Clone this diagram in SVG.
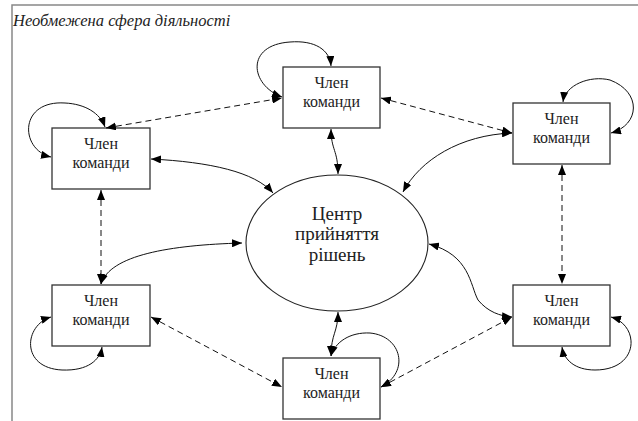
<svg xmlns="http://www.w3.org/2000/svg" width="638" height="421" viewBox="0 0 638 421">
<defs>
<marker id="ah" markerUnits="userSpaceOnUse" markerWidth="10" markerHeight="8" refX="10" refY="4" orient="auto-start-reverse" viewBox="0 0 10 8">
<path d="M0,0 L10,4 L0,8 z" fill="#000"/>
</marker>
<style>
.box{fill:#fff;stroke:#333;stroke-width:1.3}
.ell{fill:#fff;stroke:#222;stroke-width:1.1}
text{font-family:"Liberation Serif","Times New Roman",serif;fill:#222}
.t{font-size:16px;text-anchor:middle}
.tc{font-size:19px;text-anchor:middle}
.title{font-size:16.5px;font-style:italic}
.c{fill:none;stroke:#111;stroke-width:1;marker-start:url(#ah);marker-end:url(#ah)}
.d{stroke-dasharray:6 4}
.frame{fill:none;stroke:#888;stroke-width:1.5}
</style>
</defs>
<g id="frame">
<path class="frame" d="M12,421 L12,5 L638,5"/>
<text class="title" x="13" y="26">Необмежена сфера діяльності</text>
</g>
<g id="center">
<ellipse class="ell" cx="337" cy="243" rx="91" ry="68"/>
<text class="tc" x="337" y="220">Центр</text>
<text class="tc" x="337" y="240">прийняття</text>
<text class="tc" x="337" y="261">рішень</text>
</g>
<g id="m-top">
<rect class="box" x="283" y="67" width="97" height="61"/>
<text class="t" x="331.5" y="88">Член</text>
<text class="t" x="331.5" y="107">команди</text>
</g>
<g id="m-topleft">
<rect class="box" x="52" y="128" width="98" height="61"/>
<text class="t" x="101" y="149">Член</text>
<text class="t" x="101" y="168">команди</text>
</g>
<g id="m-topright">
<rect class="box" x="513" y="103" width="97" height="61"/>
<text class="t" x="561.5" y="124">Член</text>
<text class="t" x="561.5" y="143">команди</text>
</g>
<g id="m-botleft">
<rect class="box" x="52" y="285" width="98" height="61"/>
<text class="t" x="101" y="306">Член</text>
<text class="t" x="101" y="325">команди</text>
</g>
<g id="m-botright">
<rect class="box" x="513" y="285" width="97" height="61"/>
<text class="t" x="561.5" y="306">Член</text>
<text class="t" x="561.5" y="325">команди</text>
</g>
<g id="m-bottom">
<rect class="box" x="283" y="358" width="97" height="61"/>
<text class="t" x="331.5" y="379">Член</text>
<text class="t" x="331.5" y="398">команди</text>
</g>
<g id="connectors">
<path class="c d" d="M106,128 L282,98"/>
<path class="c d" d="M381,98 L512,133"/>
<path class="c d" d="M101,190 L101,284"/>
<path class="c d" d="M562,165 L562,284"/>
<path class="c d" d="M151,317 L282,387"/>
<path class="c d" d="M381,387 L512,317"/>
<path class="c" d="M151,159 C210,162 255,172 273,193"/>
<path class="c" d="M331,129 C331,150 338,150 338,174"/>
<path class="c" d="M512,133 C460,135 420,160 403,192"/>
<path class="c" d="M242,243 C170,245 110,255 101,284"/>
<path class="c" d="M429,244 C470,255 470,285 478,300 C488,312 500,316 512,317"/>
<path class="c" d="M338,312 C338,332 331,334 331,356"/>
<path class="c" d="M282,97 C250,85 245,45 290,42 C315,40 330,50 331,66"/>
<path class="c" d="M51,157 C20,150 18,100 65,103 C85,104 100,113 105,127"/>
<path class="c" d="M563,102 C565,85 590,75 610,80 C642,92 640,125 611,133"/>
<path class="c" d="M51,317 C24,325 20,368 62,370 C88,371 100,360 102,347"/>
<path class="c" d="M611,317 C640,325 640,370 595,370 C575,370 564,360 562,347"/>
<path class="c" d="M331,356 C335,342 350,332 370,333 C402,336 410,372 381,387"/>
</g>
</svg>
